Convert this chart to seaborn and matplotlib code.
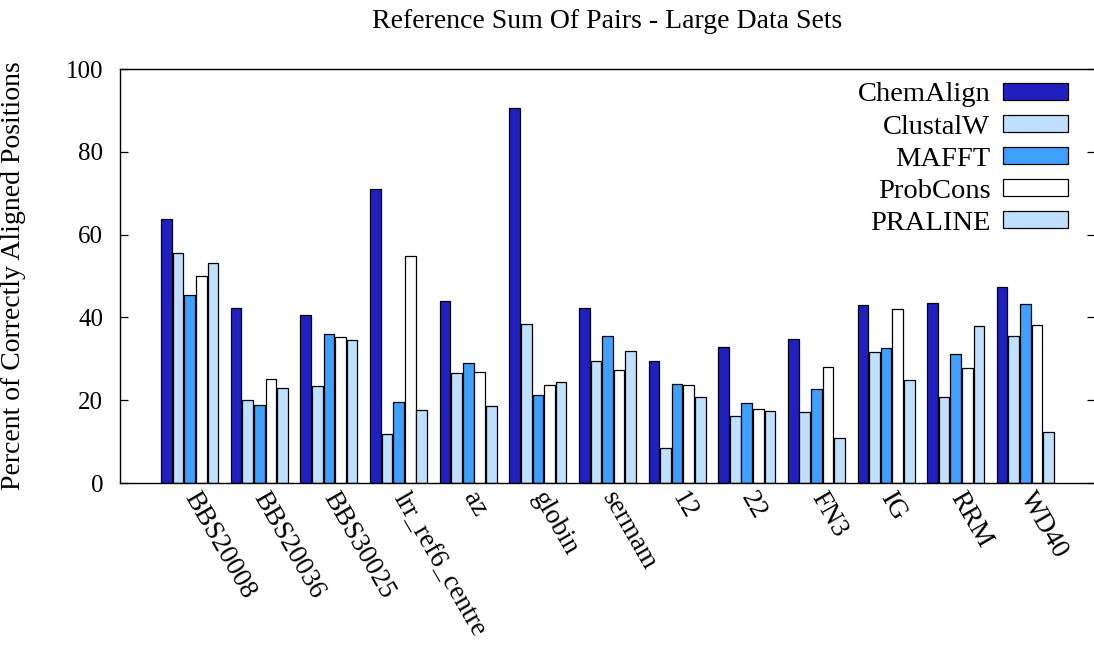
import matplotlib
matplotlib.use("Agg")
import matplotlib.pyplot as plt
import seaborn as sns
import pandas as pd
from matplotlib.patches import Patch

categories = ["BBS20008", "BBS20036", "BBS30025", "lrr_ref6_centre", "az", "globin",
              "sermam", "12", "22", "FN3", "IG", "RRM", "WD40"]
methods = ["ChemAlign", "ClustalW", "MAFFT", "ProbCons", "PRALINE"]

chemalign = [63.8, 42.2, 40.6, 71.1, 43.9, 90.6, 42.3, 29.5, 32.9, 34.7, 43.1, 43.5, 47.4]
clustalw  = [55.6, 20.1, 23.4, 11.8, 26.6, 38.3, 29.5, 8.4, 16.2, 17.1, 31.7, 20.8, 35.6]
mafft     = [45.3, 18.8, 35.9, 19.6, 29.0, 21.2, 35.5, 24.0, 19.4, 22.6, 32.6, 31.1, 43.2]
probcons  = [49.9, 25.1, 35.3, 54.9, 26.9, 23.7, 27.4, 23.7, 17.9, 28.0, 42.0, 27.8, 38.2]
praline   = [53.2, 22.9, 34.5, 17.7, 18.7, 24.4, 31.9, 20.7, 17.4, 10.8, 24.9, 38.0, 12.2]

colors = ["#2020c0", "#c0e0ff", "#40a0ff", "#ffffff", "#c0e0ff"]

series = [chemalign, clustalw, mafft, probcons, praline]
rows = []
for m, vals in zip(methods, series):
    for c, v in zip(categories, vals):
        rows.append({"dataset": c, "method": m, "value": v})
df = pd.DataFrame(rows)

sns.set_theme(style="white")
plt.rcParams["font.family"] = ["Liberation Serif", "DejaVu Serif"]
plt.rcParams["text.color"] = "black"
plt.rcParams["axes.labelcolor"] = "black"

W, H = 1094, 646
L, R, T, B = 120, 1095, 69, 483
fig = plt.figure(figsize=(W / 100, H / 100), dpi=100)
ax = fig.add_axes([L / W, 1 - B / H, (R - L) / W, (B - T) / H])

palette = dict(zip(methods, colors))
sns.barplot(data=df, x="dataset", y="value", hue="method", hue_order=methods,
            order=categories, palette=palette, saturation=1, width=0.833, gap=0.08,
            edgecolor="black", linewidth=0.9, errorbar=None, legend=False, ax=ax)

ax.set_xlim(-1, 13)
ax.set_ylim(0, 100)
ax.set_yticks([0, 20, 40, 60, 80, 100])
ax.tick_params(axis="y", which="both", direction="in", length=6, width=0.9,
               left=True, right=True, labelsize=18, pad=12, colors="black")
ax.tick_params(axis="x", length=0, pad=8, colors="black")
ax.set_xticks(range(len(categories)))
ax.set_xticklabels(categories, rotation=-60, ha="left", va="center",
                   rotation_mode="anchor", fontsize=19.5)
for s in ax.spines.values():
    s.set_visible(True)
    s.set_color("black")
    s.set_linewidth(1.0)

ax.set_xlabel("")
ax.set_ylabel("Percent of Correctly Aligned Positions", fontsize=20, color="black")
ax.yaxis.set_label_coords(-(L - 26) / (R - L), 0.5)
fig.text((L + R) / 2 / W, 1 - 22 / H, "Reference Sum Of Pairs - Large Data Sets",
         fontsize=20, ha="center", va="center", color="black")

handles = [Patch(facecolor=c, edgecolor="black", linewidth=0.9) for c in colors]
leg = ax.legend(handles, methods, loc="upper right",
                bbox_to_anchor=((1079.4 - L) / (R - L), 1.0 - 2 / (B - T)),
                frameon=False, markerfirst=False, fontsize=20.5, handlelength=2.28,
                handleheight=0.53, handletextpad=0.45, labelspacing=0.25, borderaxespad=0.0)
for t in leg.get_texts():
    t.set_ha("right")
    t.set_color("black")

fig.savefig("out.png", dpi=100)
